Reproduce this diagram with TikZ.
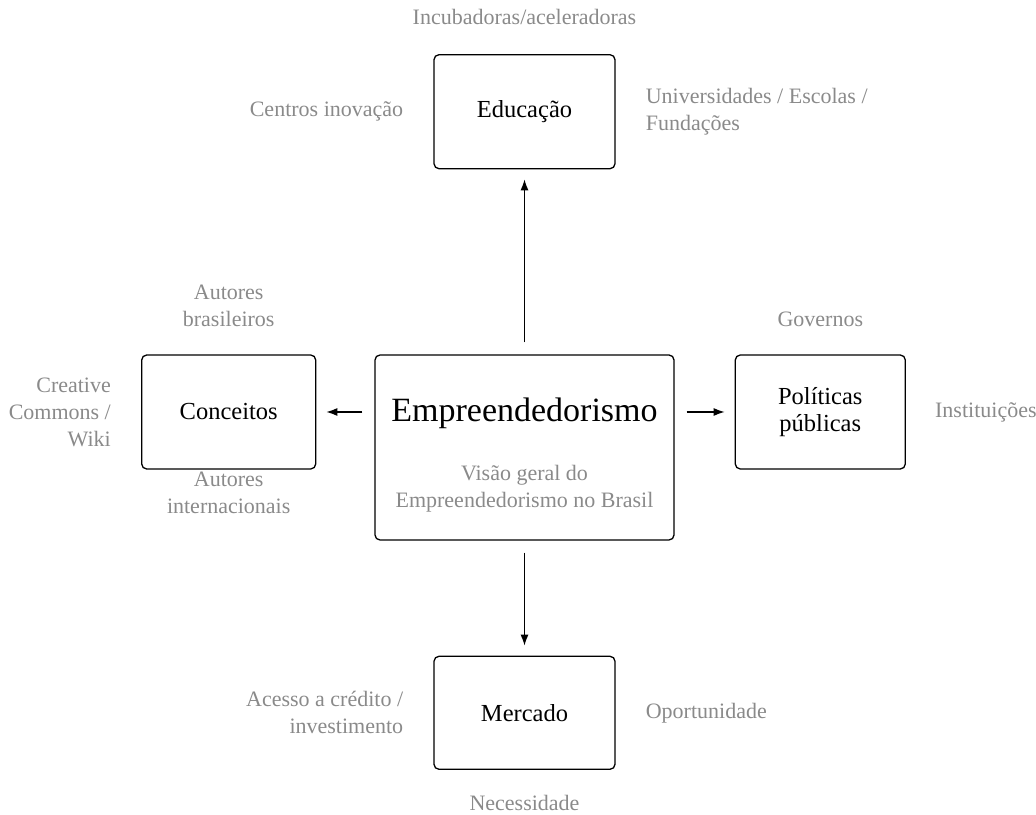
\documentclass[tikz,border=0pt]{standalone}
\usepackage{fontspec}
\setmainfont{Liberation Serif}
\usetikzlibrary{positioning,arrows.meta}
\definecolor{notegray}{RGB}{138,138,138}

\begin{document}
\begin{tikzpicture}[
box/.style={
  draw,
  rounded corners=5pt,
  line width=1.3pt,
  align=center,
  font=\fontsize{24.5}{27}\selectfont,
  inner sep=0pt
  },
note/.style={
  text=notegray,
  font=\fontsize{22}{27}\selectfont,
  inner sep=0pt
  },
link/.style={
  ->,
  line width=1.3pt,
  shorten <=12pt,
  shorten >=10pt
  },
>={Latex[length=11pt,width=8pt]},
x=1pt,y=1pt
]
\useasboundingbox (0,0) rectangle (1036,814);

% centre
\node[box, minimum width=299pt, minimum height=185pt] (main) at (524.5,366.5) {};
\node[inner sep=0pt, font=\fontsize{34}{40}\selectfont] (ttl) at ([yshift=34.5pt]main.center) {Empreendedorismo};
\node[note, align=center] (sub) at ([yshift=-41pt]main.center) {Visão geral do\\Empreendedorismo no Brasil};

% the four branches
\node[box, minimum width=181pt, minimum height=114pt, above=185pt of main] (edu) {Educação};
\node[box, minimum width=174pt, minimum height=114pt, left=58pt of main.north west, anchor=north east] (conc) {Conceitos};
\node[box, minimum width=170pt, minimum height=114pt, right=60pt of main.north east, anchor=north west] (pol) {Políticas\\públicas};
\node[box, minimum width=181pt, minimum height=113pt, below=115pt of main] (merc) {Mercado};

\draw[link] (main) -- (edu);
\draw[link] (main) -- (merc);
\draw[link] (main.west |- conc.east) -- (conc);
\draw[link] (main.east |- pol.west) -- (pol);

% notes
\node[note] (inc) at ([yshift=37pt]edu.north) {Incubadoras/aceleradoras};
\node[note, left=30pt of edu] (cent) {Centros inovação};
\node[note, right=30pt of edu, align=left] (univ) {Universidades / Escolas /\\Fundações};

\node[note, align=center] (autbr) at ([yshift=48.5pt]conc.north) {Autores\\brasileiros};
\node[note, left=30pt of conc, align=right] (creat) {Creative\\Commons /\\Wiki};
\node[note, align=center] (autint) at ([yshift=-23.5pt]conc.south) {Autores\\internacionais};

\node[note] (gov) at ([yshift=35pt]pol.north) {Governos};
\node[note, right=29pt of pol] (inst) {Instituições};

\node[note, left=30pt of merc, align=right] (acc) {Acesso a crédito /\\investimento};
\node[note, right=30pt of merc] (opor) {Oportunidade};
\node[note] (nec) at ([yshift=-33pt]merc.south) {Necessidade};

\end{tikzpicture}
\end{document}
